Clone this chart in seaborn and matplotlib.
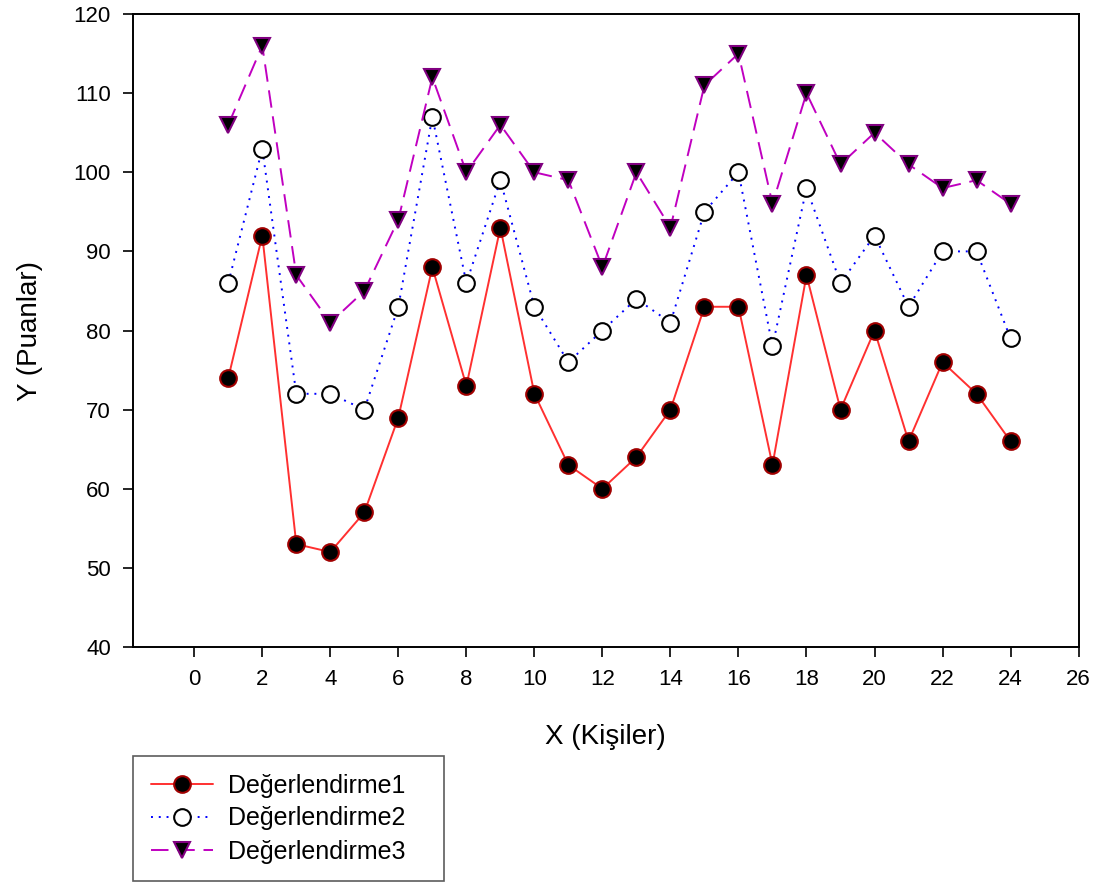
import matplotlib
matplotlib.use("Agg")
import matplotlib.pyplot as plt
import pandas as pd
import seaborn as sns

kisiler = list(range(1, 25))
degerlendirme1 = [74, 92, 53, 52, 57, 69, 88, 73, 93, 72, 63, 60,
                  64, 70, 83, 83, 63, 87, 70, 80, 66, 76, 72, 66]
degerlendirme2 = [86, 103, 72, 72, 70, 83, 107, 86, 99, 83, 76, 80,
                  84, 81, 95, 100, 78, 98, 86, 92, 83, 90, 90, 79]
degerlendirme3 = [106, 116, 87, 81, 85, 94, 112, 100, 106, 100, 99, 88,
                  100, 93, 111, 115, 96, 110, 101, 105, 101, 98, 99, 96]
x_ticks = list(range(0, 27, 2))
y_ticks = list(range(40, 121, 10))

df = pd.DataFrame({"X": kisiler, "D1": degerlendirme1,
                   "D2": degerlendirme2, "D3": degerlendirme3})

sns.set_style("ticks")
plt.rcParams["font.family"] = ["Liberation Sans", "DejaVu Sans"]
plt.rcParams["text.color"] = "black"
plt.rcParams["axes.labelcolor"] = "black"

fig = plt.figure(figsize=(11.04, 8.83), dpi=100)
ax = fig.add_axes([0.1205, 0.2673, 0.8565, 0.7168])

# (column, label, line color, linestyle, marker, face, edge)
styles = [
    ("D1", "Değerlendirme1", "#ff3030", "-", "o", "black", "#a00000"),
    ("D2", "Değerlendirme2", "#0000ff", (0, (1, 3)), "o", "white", "black"),
    ("D3", "Değerlendirme3", "#c000c0", (0, (9, 4.5)), "v", "black", "#800080"),
]
for col, label, color, ls, mk, fc, ec in styles:
    sns.lineplot(data=df, x="X", y=col, ax=ax, label=label, color=color,
                 linestyle=ls, linewidth=1.4, marker=mk, markersize=12,
                 markerfacecolor=fc, markeredgecolor=ec, markeredgewidth=1.5)

ax.set_xlim(-1.8, 26)
ax.set_ylim(40, 120)
ax.set_xticks(x_ticks)
ax.set_yticks(y_ticks)
ax.tick_params(direction="out", length=7, width=1.2, labelsize=16,
               colors="black", pad=9)
for side in ["left", "bottom", "top", "right"]:
    ax.spines[side].set_visible(True)
    ax.spines[side].set_linewidth(1.4)
    ax.spines[side].set_color("black")
ax.set_xlabel("X (Kişiler)", fontsize=20, labelpad=24)
ax.set_ylabel("Y (Puanlar)", fontsize=20, labelpad=22)

# legend sits below the axes, frame stretched to the reference box width
handles, labels = ax.get_legend_handles_labels()
ax.get_legend().remove()
leg = fig.legend(handles, labels, loc="lower left", mode="expand",
                 bbox_to_anchor=(133 / 1104, 1 - 881 / 883, 311 / 1104, 0.1),
                 fontsize=18, frameon=True, fancybox=False,
                 edgecolor="#333333", handlelength=2.5, borderpad=0.7,
                 labelspacing=0.36, handletextpad=0.6, borderaxespad=0)
leg.get_frame().set_linewidth(1.2)

fig.savefig("out.png", dpi=100)
